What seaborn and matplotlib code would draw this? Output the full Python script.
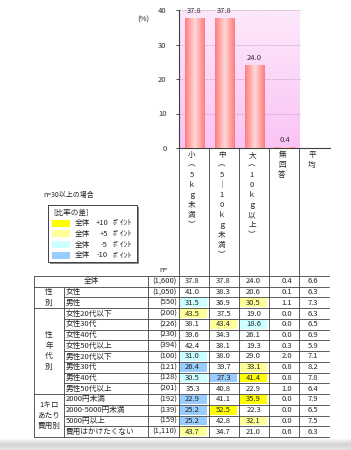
import numpy as np
import pandas as pd
import seaborn as sns
import matplotlib.pyplot as plt
from matplotlib.colors import LinearSegmentedColormap
from matplotlib.patches import Rectangle

# --- data ---
categories = ["小（5kg未満）", "中（5－10kg未満）", "大（10kg以上）", "無回答", "平均"]
overall_pct = [37.8, 37.8, 24.0, 0.4]

row_labels = ["全体", "女性", "男性", "女性20代以下", "女性30代", "女性40代", "女性50代以上",
              "男性20代以下", "男性30代", "男性40代", "男性50代以上",
              "2000円未満", "2000-5000円未満", "5000円以上", "費用はかけたくない"]
n_values = ["(1,600)", "(1,050)", "(550)", "(200)", "(226)", "(230)", "(394)",
            "(100)", "(121)", "(128)", "(201)", "(192)", "(139)", "(159)", "(1,110)"]
small = [37.8, 41.0, 31.5, 43.5, 38.1, 39.6, 42.4, 31.0, 26.4, 30.5, 35.3, 22.9, 25.2, 25.2, 43.7]
medium = [37.8, 38.3, 36.9, 37.5, 43.4, 34.3, 38.1, 38.0, 39.7, 27.3, 40.8, 41.1, 52.5, 42.8, 34.7]
large = [24.0, 20.6, 30.5, 19.0, 18.6, 26.1, 19.3, 29.0, 33.1, 41.4, 22.9, 35.9, 22.3, 32.1, 21.0]
no_answer = [0.4, 0.1, 1.1, 0.0, 0.0, 0.0, 0.3, 2.0, 0.8, 0.8, 1.0, 0.0, 0.0, 0.0, 0.6]
average = [6.6, 6.3, 7.3, 6.3, 6.5, 6.9, 5.9, 7.1, 8.2, 7.8, 6.4, 7.9, 6.5, 7.5, 6.3]

# group name lines, first row, last row (exclusive)
groups = [(["性", "別"], 1, 3), (["性", "年", "代", "別"], 3, 11), (["1キロ", "あたり", "費用別"], 11, 15)]

legend_colors = ["#ffff00", "#ffff99", "#ccffff", "#99ccff"]
legend_values = ["+10", "+5", "-5", "-10"]

sns.set_theme(style="white")
plt.rcParams["font.family"] = ["Noto Sans CJK JP", "DejaVu Sans"]
FS = 5.5
LINE = "#404040"

fig = plt.figure(figsize=(3.51, 4.5), dpi=100)

# --- bar chart ---
ax = fig.add_axes([179 / 351, (450 - 148) / 450, (330 - 179) / 351, 138 / 450])
df = pd.DataFrame({"cat": categories[:4], "pct": overall_pct})
sns.barplot(data=df, x="cat", y="pct", width=0.63, ax=ax, color="#ff8a8a", zorder=3)

# pink gradient background over the first four columns
bg = LinearSegmentedColormap.from_list("bg", ["#fde8fb", "#fac4f4"])
ax.imshow(np.linspace(0, 1, 50).reshape(-1, 1), cmap=bg, extent=[-0.5, 3.5, 0, 40],
          aspect="auto", zorder=0)
ax.hlines([10, 20, 30, 40], -0.5, 3.5, colors="#b8a0b8", linestyles=(0, (1.5, 1.5)), lw=0.6, zorder=1)

# horizontal shading on each bar
barcm = LinearSegmentedColormap.from_list("bar", ["#ff7c7c", "#ffd8d8", "#ff7c7c"])
grad = np.linspace(0, 1, 60).reshape(1, -1)
for p in ax.patches:
    x0, w, h = p.get_x(), p.get_width(), p.get_height()
    p.set_edgecolor("#ff7070")
    p.set_linewidth(0.4)
    im = ax.imshow(grad, cmap=barcm, extent=[x0, x0 + w, 0, h], aspect="auto", zorder=3.5)
    im.set_clip_path(p)
ax.bar_label(ax.containers[0], fmt="%.1f", padding=2, fontsize=FS, color="#333333")

ax.set_xlim(-0.5, 4.5)
ax.set_ylim(0, 40)
ax.set_yticks([0, 10, 20, 30, 40])
ax.set_xticks([])
ax.set_xlabel("")
ax.set_ylabel("")
ax.tick_params(axis="y", length=2, width=0.6, pad=7, labelsize=FS, left=True, colors="#333333")
for s in ["top", "right"]:
    ax.spines[s].set_visible(False)
for s in ["left", "bottom"]:
    ax.spines[s].set_color(LINE)
    ax.spines[s].set_linewidth(0.8)

# --- overlay in pixel coordinates for table and labels ---
ov = fig.add_axes([0, 0, 1, 1])
ov.patch.set_visible(False)
ov.set_zorder(2)

# soft shadow under the table
sh = LinearSegmentedColormap.from_list("sh", ["#ffffff", "#d4d4d4", "#e4e4e4"])
ov.imshow(np.linspace(0, 1, 20).reshape(-1, 1), cmap=sh, extent=[0, 351, 450, 438], aspect="auto")

ov.text(143, 20, "(%)", fontsize=FS, ha="center", va="center")

col_edges = [179, 209, 239, 269, 299, 329]
vert = str.maketrans({"（": "︵", "）": "︶", "－": "｜", "k": "ｋ", "g": "ｇ"})
for i, cat in enumerate(categories):
    cx = (col_edges[i] + col_edges[i + 1]) / 2 - 2
    for j, ch in enumerate(cat.translate(vert)):
        ov.text(cx, 155 + j * 10, ch, fontsize=FS, ha="center", va="center")

# legend
ov.text(43, 195, "n=30以上の場合", fontsize=FS - 0.5, ha="left", va="center")
ov.add_patch(Rectangle((49.5, 206.5), 89, 57, facecolor="#888888", edgecolor="none"))
ov.add_patch(Rectangle((48, 205), 89, 57, facecolor="white", edgecolor=LINE, lw=0.7))
ov.text(53, 213, "[比率の差]", fontsize=FS, ha="left", va="center")
for k, (c, v) in enumerate(zip(legend_colors, legend_values)):
    y = 223 + k * 10.8
    ov.add_patch(Rectangle((52, y - 3.5), 18, 7, facecolor=c, edgecolor="none"))
    ov.text(75, y, "全体", fontsize=FS, ha="left", va="center")
    ov.text(108, y, v, fontsize=FS, ha="right", va="center")
    ov.text(113, y, "ﾎﾟｲﾝﾄ", fontsize=FS, ha="left", va="center")

# table
top, bottom = 276, 437
rh = (bottom - top) / len(row_labels)
ov.text(163, 270, "n=", fontsize=FS - 0.5, ha="center", va="center")


def diff_color(v, base):
    d = round(v - base, 1)
    if d > 10:
        return legend_colors[0]
    if d > 5:
        return legend_colors[1]
    if d < -10:
        return legend_colors[3]
    if d < -5:
        return legend_colors[2]
    return None


columns = [small, medium, large, no_answer, average]
right_pad = [9, 8, 8, 7, 11]
for r, lab in enumerate(row_labels):
    yc = top + (r + 0.5) * rh
    if r == 0:
        ov.text(91, yc, lab, fontsize=FS, ha="center", va="center")
    else:
        ov.text(66, yc, lab, fontsize=FS, ha="left", va="center")
    ov.text(177, yc, n_values[r], fontsize=FS, ha="right", va="center")
    for c, vals in enumerate(columns):
        v = vals[r]
        if c < 3 and r > 0:
            fc = diff_color(v, vals[0])
            if fc:
                ov.add_patch(Rectangle((col_edges[c] + 0.5, top + r * rh + 1), 27, rh - 2,
                                       facecolor=fc, edgecolor="none"))
        ov.text(col_edges[c + 1] - right_pad[c], yc, f"{v:.1f}", fontsize=FS,
                ha="right", va="center")

for names, r0, r1 in groups:
    ymid = top + (r0 + r1) / 2 * rh
    n = len(names)
    for k, nm in enumerate(names):
        ov.text(49, ymid + (k - (n - 1) / 2) * 10.6, nm, fontsize=FS, ha="center", va="center")

# grid lines of the table
group_breaks = {0, 1, 3, 11, 15}
for r in range(len(row_labels) + 1):
    y = top + r * rh
    x0 = 34 if r in group_breaks else 64
    ov.plot([x0, 329], [y, y], color=LINE, lw=0.6)
ov.plot([34, 34], [top, bottom], color=LINE, lw=0.6)
ov.plot([64, 64], [top + rh, bottom], color=LINE, lw=0.6)
ov.plot([148, 148], [top, bottom], color=LINE, lw=0.6)
for x in col_edges[:-1]:
    ov.plot([x, x], [148, bottom], color=LINE, lw=0.6)

ov.set_xlim(0, 351)
ov.set_ylim(450, 0)
ov.axis("off")

fig.savefig("out.png", dpi=100)
